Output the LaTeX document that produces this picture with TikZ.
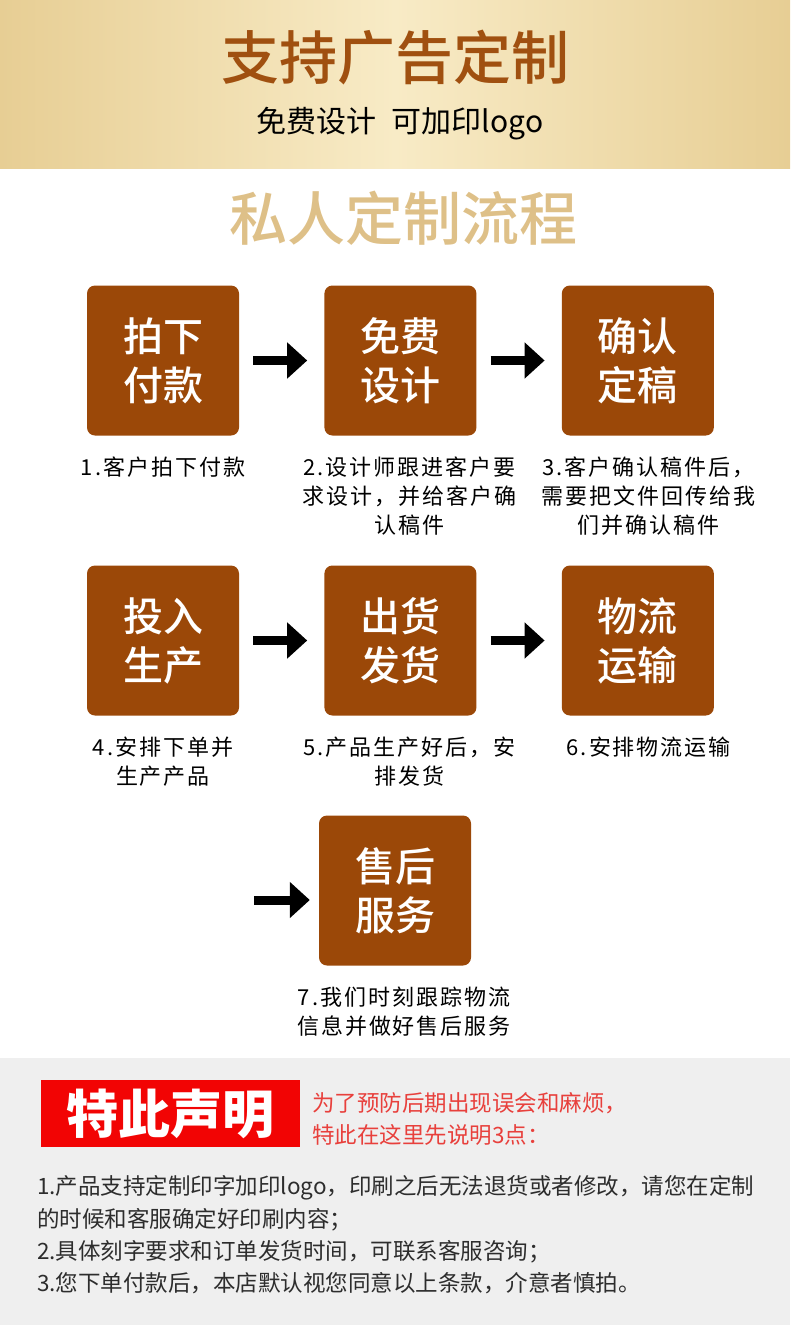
\documentclass[tikz,border=0pt]{standalone}
\usepackage{fontspec}
\setmainfont{Noto Sans CJK SC}
\newfontfamily\medfont{Noto Sans CJK SC Medium}
\usepackage{color}
\usetikzlibrary{arrows.meta,positioning,shapes}

\definecolor{goldedge}{RGB}{231,206,148}
\definecolor{goldmid}{RGB}{248,235,198}
\definecolor{titlebrown}{RGB}{160,80,16}
\definecolor{headtan}{RGB}{222,192,136}
\definecolor{boxbrown}{RGB}{155,72,8}
\definecolor{bandgrey}{RGB}{239,239,239}
\definecolor{warnred}{RGB}{242,4,4}
\definecolor{notered}{RGB}{232,64,60}
\definecolor{bodygrey}{RGB}{45,45,45}

\begin{document}
\begin{tikzpicture}[x=1pt, y=-1pt,
    node distance=85pt,
    stepbox/.style={fill=boxbrown, rounded corners=8pt, minimum width=152pt,
      minimum height=150pt, inner sep=0pt, text=white, align=center,
      font=\medfont\fontsize{40}{49}\selectfont},
    steptext/.style={below=21pt of #1, align=center, inner sep=0pt,
      font=\fontsize{22}{29}\selectfont\addfontfeature{LetterSpace=9}},
    flow/.style={line width=9pt, -{Triangle[width=35pt,length=20pt]},
      shorten <=14pt, shorten >=17pt},
    notetext/.style={anchor=base west, inner sep=0pt, text=notered,
      font=\fontsize{22.5}{32}\selectfont},
    bodyline/.style={anchor=base west, inner sep=0pt, text=bodygrey,
      font=\fontsize{22.5}{32}\selectfont}]
  \useasboundingbox (0,0) rectangle (790,1338);

  % header
  \shade[left color=goldedge, right color=goldedge, middle color=goldmid]
    (0,0) rectangle (790,168);
  \node[text=titlebrown, font=\medfont\fontsize{58}{58}\selectfont]
    (title) at (395,58) {支持广告定制};
  \node[font=\fontsize{30}{30}\selectfont] (sub) at (400,124)
    {免费设计\hspace{0.5em}可加印logo};
  \node[text=headtan, font=\medfont\fontsize{58}{58}\selectfont]
    (head) at (403,218) {私人定制流程};

  % steps
  \node [stepbox] (s1) at (163,360.5) {拍下\\付款};
  \node [stepbox, right=of s1] (s2) {免费\\设计};
  \node [stepbox, right=of s2] (s3) {确认\\定稿};
  \node [stepbox] (s4) at (163,640.5) {投入\\生产};
  \node [stepbox, right=of s4] (s5) {出货\\发货};
  \node [stepbox, right=of s5] (s6) {物流\\运输};
  \node [stepbox] (s7) at (395,890.5) {售后\\服务};

  \node [steptext=s1] (t1) {1.客户拍下付款};
  \node [steptext=s2, xshift=9pt] (t2) {2.设计师跟进客户要\\求设计，并给客户确\\认稿件};
  \node [steptext=s3, xshift=11pt] (t3) {3.客户确认稿件后，\\需要把文件回传给我\\们并确认稿件};
  \node [steptext=s4] (t4) {4.安排下单并\\生产产品};
  \node [steptext=s5, xshift=9pt] (t5) {5.产品生产好后，安\\排发货};
  \node [steptext=s6, xshift=11pt] (t6) {6.安排物流运输};
  \node [steptext=s7, xshift=9pt] (t7) {7.我们时刻跟踪物流\\信息并做好售后服务};

  \coordinate (a7) at (254,900);
  \draw[flow] (s1.east) -- (s2.west);
  \draw[flow] (s2.east) -- (s3.west);
  \draw[flow] (s4.east) -- (s5.west);
  \draw[flow] (s5.east) -- (s6.west);
  \draw[flow, shorten <=0pt, shorten >=9pt] (a7) -- (a7 -| s7.west);

  % notice
  \fill[bandgrey] (0,1058) rectangle (790,1325);
  \node[fill=warnred, minimum width=259pt, minimum height=67pt, text=white,
    font=\bfseries\fontsize{52}{52}\selectfont] (warn) at (170.5,1113.5) {特此声明};
  \node[notetext] (n1) at (312,1111) {为了预防后期出现误会和麻烦，};
  \node[notetext] (n2) at (312,1143) {特此在这里先说明3点：};
  \node[bodyline] (l1) at (37,1194) {1.产品支持定制印字加印logo，印刷之后无法退货或者修改，请您在定制};
  \node[bodyline] (l2) at (37,1227) {的时候和客服确定好印刷内容；};
  \node[bodyline] (l3) at (37,1259) {2.具体刻字要求和订单发货时间，可联系客服咨询；};
  \node[bodyline] (l4) at (37,1291) {3.您下单付款后，本店默认视您同意以上条款，介意者慎拍。};
\end{tikzpicture}
\end{document}
